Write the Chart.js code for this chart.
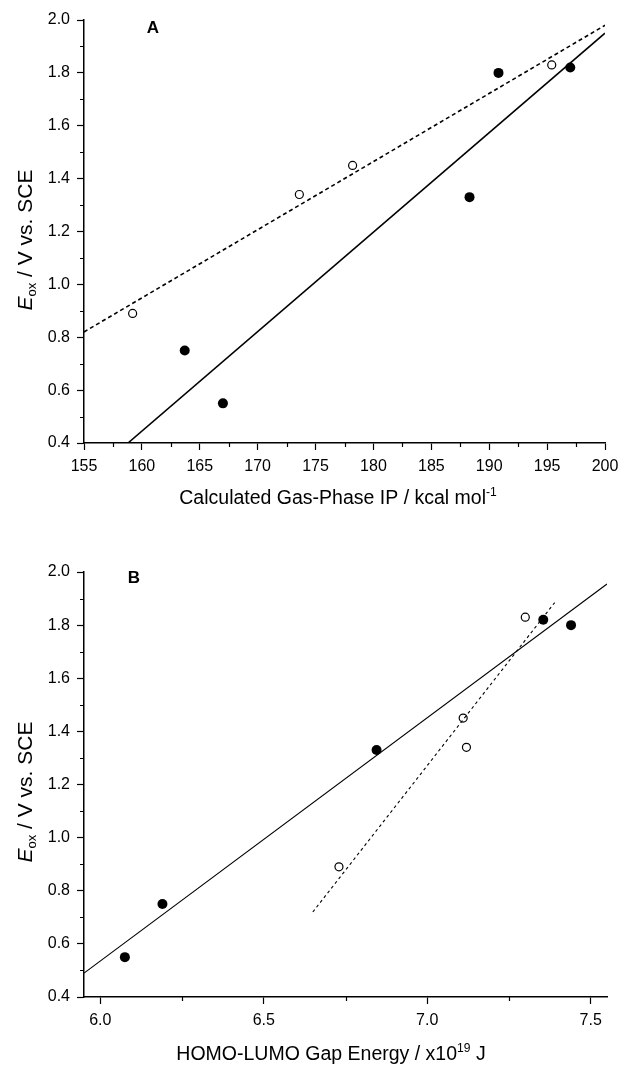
<!DOCTYPE html>
<html lang="en">
<head>
<meta charset="UTF-8">
<title>Eox vs calculated IP and HOMO-LUMO gap</title>
<script src="https://cdn.jsdelivr.net/npm/chart.js"></script>
<style>
  body { margin: 0; background: #fff; }
  .panel { position: absolute; left: 0; width: 618px; }
  #panelA { top: 0; height: 520px; }
  #panelB { top: 520px; height: 545px; }
</style>
</head>
<body>

<div class="panel" id="panelA"><canvas id="chartA"></canvas></div>
<div class="panel" id="panelB"><canvas id="chartB"></canvas></div>

<script>
// ---- panel A : Eox against calculated gas-phase IP ----
const ipFilled = [163.7, 167.0, 188.3, 190.8, 197.0];
const eoxFilledA = [0.75, 0.55, 1.33, 1.80, 1.82];
const ipOpen = [159.2, 173.6, 178.2, 195.4];
const eoxOpenA = [0.89, 1.34, 1.45, 1.83];
// fitted lines (end points)
const fitSolidAx = [158.8, 200];
const fitSolidAy = [0.40, 1.95];
const fitDashAx = [155, 200];
const fitDashAy = [0.82, 1.98];

// ---- panel B : Eox against HOMO-LUMO gap ----
const gapFilled = [6.075, 6.19, 6.845, 7.355, 7.44];
const eoxFilledB = [0.55, 0.75, 1.33, 1.82, 1.80];
const gapOpen = [6.73, 7.11, 7.12, 7.30];
const eoxOpenB = [0.89, 1.45, 1.34, 1.83];
const fitSolidBx = [5.95, 7.55];
const fitSolidBy = [0.49, 1.955];
const fitDashBx = [6.65, 7.39];
const fitDashBy = [0.72, 1.885];

// ---- ticks ----
const ticksIP = [155, 160, 165, 170, 175, 180, 185, 190, 195, 200];
const minorIP = [157.5, 162.5, 167.5, 172.5, 177.5, 182.5, 187.5, 192.5, 197.5];
const ticksGap = [6.0, 6.5, 7.0, 7.5];
const minorGap = [6.25, 6.75, 7.25];
const ticksEox = [0.4, 0.6, 0.8, 1.0, 1.2, 1.4, 1.6, 1.8, 2.0];
const minorEox = [0.5, 0.7, 0.9, 1.1, 1.3, 1.5, 1.7, 1.9];

const FONT = '"Liberation Sans", Arial, sans-serif';

function pts(xs, ys) {
  return xs.map((x, i) => ({ x: x, y: ys[i] }));
}

// draws text pieces (normal / italic / sub / sup) centred on 0,0
function drawRich(ctx, parts, size) {
  let total = 0;
  parts.forEach(p => {
    const s = p.small ? size * 0.62 : size;
    ctx.font = (p.italic ? 'italic ' : '') + s + 'px ' + FONT;
    p.w = ctx.measureText(p.t).width;
    total += p.w;
  });
  let x = -total / 2;
  ctx.textBaseline = 'alphabetic';
  ctx.textAlign = 'left';
  parts.forEach(p => {
    const s = p.small ? size * 0.62 : size;
    ctx.font = (p.italic ? 'italic ' : '') + s + 'px ' + FONT;
    let dy = size * 0.36;
    if (p.sub) dy += size * 0.22;
    if (p.sup) dy -= size * 0.42;
    ctx.fillText(p.t, x, dy);
    x += p.w;
  });
}

const extras = {
  id: 'extras',
  afterDraw(chart, args, o) {
    const ctx = chart.ctx;
    const xs = chart.scales.x, ys = chart.scales.y;
    ctx.save();
    ctx.strokeStyle = '#000';
    ctx.lineWidth = 1.2;
    ctx.beginPath();
    o.minorX.forEach(v => {
      const px = Math.round(xs.getPixelForValue(v)) + 0.5;
      ctx.moveTo(px, xs.top);
      ctx.lineTo(px, xs.top + 4);
    });
    minorEox.forEach(v => {
      const py = Math.round(ys.getPixelForValue(v)) + 0.5;
      ctx.moveTo(ys.right, py);
      ctx.lineTo(ys.right - 4, py);
    });
    ctx.stroke();

    ctx.fillStyle = '#000';
    // x title
    ctx.save();
    ctx.translate(o.xTitle[0], o.xTitle[1]);
    drawRich(ctx, o.xParts, 19.5);
    ctx.restore();
    // y title
    ctx.save();
    ctx.translate(o.yTitle[0], o.yTitle[1]);
    ctx.rotate(-Math.PI / 2);
    drawRich(ctx, [
      { t: 'E', italic: true },
      { t: 'ox', small: true, sub: true },
      { t: ' / V vs. SCE' }
    ], 21);
    ctx.restore();
    // panel letter
    ctx.font = 'bold 17px ' + FONT;
    ctx.textAlign = 'center';
    ctx.textBaseline = 'middle';
    ctx.fillText(o.letter, o.letterPos[0], o.letterPos[1]);
    ctx.restore();
  }
};

function noEdgePadding(s) {
  s.paddingLeft = 0;
  s.paddingRight = 0;
  s.paddingTop = 0;
  s.paddingBottom = 0;
}

function makeChart(id, cfg) {
  const axisX = {
    type: 'linear',
    position: 'bottom',
    min: cfg.xMin,
    max: cfg.xMax,
    border: { display: true, color: '#000', width: 1.5 },
    grid: { display: true, drawOnChartArea: false, drawTicks: true, tickLength: 7, tickWidth: 1.2, tickColor: '#000' },
    ticks: {
      color: '#000',
      font: { family: FONT, size: 16 },
      padding: 7,
      maxRotation: 0,
      autoSkip: false,
      callback: v => v.toFixed(cfg.xDec)
    },
    afterBuildTicks: s => { s.ticks = cfg.xTicks.map(v => ({ value: v })); },
    afterFit: s => { s.height = cfg.xAxisH; noEdgePadding(s); }
  };
  const axisY = {
    type: 'linear',
    position: 'left',
    min: 0.4,
    max: 2.0,
    border: { display: true, color: '#000', width: 1.5 },
    grid: { display: true, drawOnChartArea: false, drawTicks: true, tickLength: 7, tickWidth: 1.2, tickColor: '#000' },
    ticks: {
      color: '#000',
      font: { family: FONT, size: 16 },
      padding: 7,
      autoSkip: false,
      callback: v => v.toFixed(1)
    },
    afterBuildTicks: s => { s.ticks = ticksEox.map(v => ({ value: v })); },
    afterFit: s => { s.width = 84; noEdgePadding(s); }
  };

  return new Chart(document.getElementById(id), {
    type: 'scatter',
    data: {
      datasets: [
        {
          label: 'fit filled',
          data: pts(cfg.fitSolid[0], cfg.fitSolid[1]),
          showLine: true,
          borderColor: '#000',
          borderWidth: cfg.solidW,
          pointRadius: 0
        },
        {
          label: 'fit open',
          data: pts(cfg.fitDash[0], cfg.fitDash[1]),
          showLine: true,
          borderColor: '#000',
          borderWidth: cfg.dashW,
          borderDash: cfg.dash,
          pointRadius: 0
        },
        {
          label: 'filled',
          data: pts(cfg.filled[0], cfg.filled[1]),
          pointRadius: 5,
          pointBackgroundColor: '#000',
          pointBorderColor: '#000',
          pointBorderWidth: 0
        },
        {
          label: 'open',
          data: pts(cfg.open[0], cfg.open[1]),
          pointRadius: 4,
          pointBackgroundColor: '#fff',
          pointBorderColor: '#000',
          pointBorderWidth: 1.2
        }
      ]
    },
    options: {
      responsive: true,
      maintainAspectRatio: false,
      animation: false,
      events: [],
      layout: { padding: { left: 0, top: cfg.padTop, right: cfg.padRight, bottom: 0 } },
      plugins: {
        legend: { display: false },
        tooltip: { enabled: false },
        extras: cfg.extras
      },
      scales: { x: axisX, y: axisY }
    },
    plugins: [extras]
  });
}

makeChart('chartA', {
  xMin: 155, xMax: 200, xDec: 0, xTicks: ticksIP, xAxisH: 77,
  padTop: 20, padRight: 13,
  fitSolid: [fitSolidAx, fitSolidAy], fitDash: [fitDashAx, fitDashAy],
  filled: [ipFilled, eoxFilledA], open: [ipOpen, eoxOpenA],
  solidW: 1.6, dashW: 1.6, dash: [4, 3],
  extras: {
    minorX: minorIP,
    xTitle: [338, 497],
    xParts: [{ t: 'Calculated Gas-Phase IP / kcal mol' }, { t: '-1', small: true, sup: true }],
    yTitle: [24, 240],
    letter: 'A', letterPos: [153, 28]
  }
});

makeChart('chartB', {
  xMin: 5.95, xMax: 7.55, xDec: 1, xTicks: ticksGap, xAxisH: 68,
  padTop: 52, padRight: 11,
  fitSolid: [fitSolidBx, fitSolidBy], fitDash: [fitDashBx, fitDashBy],
  filled: [gapFilled, eoxFilledB], open: [gapOpen, eoxOpenB],
  solidW: 1.1, dashW: 1.1, dash: [3, 3],
  extras: {
    minorX: minorGap,
    xTitle: [331, 533],
    xParts: [{ t: 'HOMO-LUMO Gap Energy / x10' }, { t: '19', small: true, sup: true }, { t: ' J' }],
    yTitle: [24, 272],
    letter: 'B', letterPos: [134, 58]
  }
});
</script>

</body>
</html>
